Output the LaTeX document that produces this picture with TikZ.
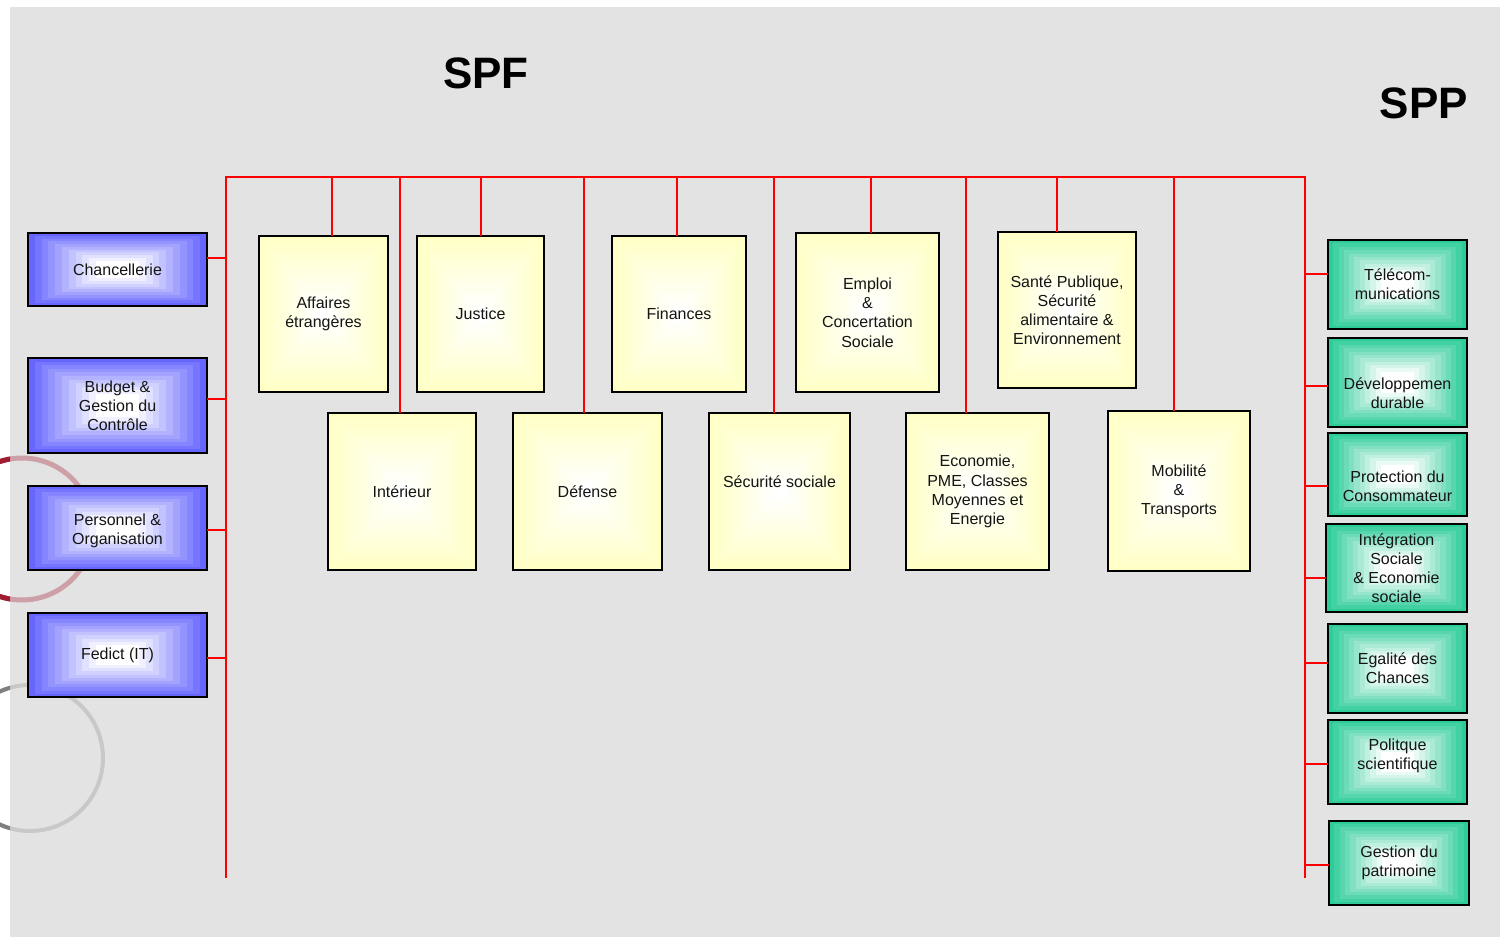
\documentclass[tikz,border=0pt]{standalone}
\usepackage{fontspec}
\setmainfont{Liberation Sans}
\usetikzlibrary{calc}
\definecolor{cBg}{RGB}{227,227,227}
\definecolor{cBlue}{RGB}{102,102,255}
\definecolor{cGreen}{RGB}{45,204,153}
\definecolor{cYellow}{RGB}{255,255,196}
\definecolor{cRingRed}{RGB}{160,28,50}
\definecolor{cRingRedL}{RGB}{205,160,168}
\definecolor{cRingGray}{RGB}{128,128,128}
\definecolor{cRingGrayL}{RGB}{200,200,200}
\definecolor{cTxt}{RGB}{20,20,20}
\tikzset{
  rgrad/.style n args={3}{path picture={
    \foreach \k in {0,...,#2}{
      \pgfmathsetmacro{\ff}{#3*\k/#2}
      \pgfmathtruncatemacro{\pp}{100-100*\k/#2}
      \fill[#1!\pp!white] ($(path picture bounding box.south west)!\ff!(path picture bounding box.north east)$) rectangle ($(path picture bounding box.north east)!\ff!(path picture bounding box.south west)$);
    }}},
  basebox/.style={draw=black, line width=1pt, inner sep=0pt, outer sep=0pt, align=center, text=cTxt, font=\fontsize{8}{9.6}\selectfont},
  blueB/.style={basebox, rgrad={cBlue}{10}{0.38}},
  greenB/.style={basebox, rgrad={cGreen}{10}{0.38}},
  yellowB/.style={basebox, rgrad={cYellow}{24}{0.46}},
  redl/.style={draw=red, line width=1pt},
  title/.style={font=\fontsize{22}{26}\selectfont\bfseries, text=black, inner sep=0pt},
}
\newcommand\mybox[7]{\node[#6, minimum width={(#4-#2)*0.5pt}, minimum height={(#5-#3)*0.5pt}] (#1) at ({(#2+#4)/2},{(#3+#5)/2}) {#7};}
\newcommand\shifttext[2]{\raisebox{#1}[0pt][0pt]{\begin{tabular}{@{}c@{}}#2\end{tabular}}}
\begin{document}
\begin{tikzpicture}[x=0.5pt,y=-0.5pt]
\useasboundingbox (0,0) rectangle (1500,937);
% background
\fill[cBg] (10,7) rectangle (1500,937);
% decorative rings
\draw[cRingRedL, line width=2.5pt] (22,529) circle (71);
\draw[cRingGrayL, line width=2pt] (30,758) circle (73);
\begin{scope}
  \clip (0,0) rectangle (10,937);
  \draw[cRingRed, line width=2.5pt] (22,529) circle (71);
  \draw[cRingGray, line width=2pt] (30,758) circle (73);
\end{scope}
% titles
\node[title] (tspf) at (486,73) {SPF};
\node[title] (tspp) at (1424,103) {SPP};
% bus
\coordinate (tl) at (226,177);
\coordinate (tr) at (1305,177);
\coordinate (bl) at (226,878);
\coordinate (br) at (1305,878);
\draw[redl] (bl) -- (tl) -- (tr) -- (br);
% left blue boxes
\mybox{chanc}{28}{233}{207}{306}{blueB}{Chancellerie}
\mybox{budget}{28}{358}{207}{453}{blueB}{Budget \&\\Gestion du\\Contrôle}
\mybox{perso}{28}{486}{207}{570}{blueB}{\shifttext{-3.5pt}{Personnel \&\\Organisation}}
\mybox{fedict}{28}{613}{207}{697}{blueB}{Fedict (IT)}
% yellow boxes top row
\mybox{affaires}{259}{236}{388}{392}{yellowB}{Affaires\\étrangères}
\mybox{justice}{417}{236}{544}{392}{yellowB}{Justice}
\mybox{finances}{612}{236}{746}{392}{yellowB}{Finances}
\mybox{emploi}{796}{233}{939}{392}{yellowB}{Emploi\\\&\\Concertation\\Sociale}
\mybox{sante}{998}{232}{1136}{388}{yellowB}{Santé Publique,\\Sécurité\\alimentaire \&\\Environnement}
% yellow boxes bottom row
\mybox{interieur}{328}{413}{476}{570}{yellowB}{Intérieur}
\mybox{defense}{513}{413}{662}{570}{yellowB}{Défense}
\mybox{secu}{709}{413}{850}{570}{yellowB}{\raisebox{10pt}{Sécurité sociale}}
\mybox{eco}{906}{413}{1049}{570}{yellowB}{Economie,\\PME, Classes\\Moyennes et\\Energie}
\mybox{mobil}{1108}{411}{1250}{571}{yellowB}{Mobilité\\\&\\Transports}
% green boxes
\mybox{tele}{1328}{240}{1467}{329}{greenB}{Télécom-\\munications}
\mybox{devdur}{1328}{338}{1467}{427}{greenB}{\shifttext{-8.5pt}{Développemen\\durable}}
\mybox{protec}{1328}{433}{1467}{516}{greenB}{\shifttext{-9pt}{Protection du\\Consommateur}}
\mybox{integr}{1326}{524}{1467}{612}{greenB}{Intégration\\Sociale\\\& Economie\\sociale}
\mybox{egal}{1328}{624}{1467}{713}{greenB}{Egalité des\\Chances}
\mybox{polit}{1328}{720}{1467}{804}{greenB}{\shifttext{1pt}{Politque\\scientifique}}
\mybox{patri}{1329}{821}{1469}{905}{greenB}{Gestion du\\patrimoine}
% left connectors
\draw[redl] (chanc.east |- 0,258) -- (tl |- 0,258);
\draw[redl] (budget.east |- 0,399) -- (tl |- 0,399);
\draw[redl] (perso.east |- 0,530) -- (tl |- 0,530);
\draw[redl] (fedict.east |- 0,658) -- (tl |- 0,658);
% top connectors
\draw[redl] (tl -| 332,0) -- (affaires.north -| 332,0);
\draw[redl] (tl -| 481,0) -- (justice.north -| 481,0);
\draw[redl] (tl -| 677,0) -- (finances.north -| 677,0);
\draw[redl] (tl -| 871,0) -- (emploi.north -| 871,0);
\draw[redl] (tl -| 1057,0) -- (sante.north -| 1057,0);
\draw[redl] (tl -| 400,0) -- (interieur.north -| 400,0);
\draw[redl] (tl -| 584,0) -- (defense.north -| 584,0);
\draw[redl] (tl -| 774,0) -- (secu.north -| 774,0);
\draw[redl] (tl -| 966,0) -- (eco.north -| 966,0);
\draw[redl] (tl -| 1174,0) -- (mobil.north -| 1174,0);
% right connectors
\draw[redl] (tr |- 0,274) -- (tele.west |- 0,274);
\draw[redl] (tr |- 0,386) -- (devdur.west |- 0,386);
\draw[redl] (tr |- 0,486) -- (protec.west |- 0,486);
\draw[redl] (tr |- 0,578) -- (integr.west |- 0,578);
\draw[redl] (tr |- 0,663) -- (egal.west |- 0,663);
\draw[redl] (tr |- 0,764) -- (polit.west |- 0,764);
\draw[redl] (tr |- 0,865) -- (patri.west |- 0,865);
\end{tikzpicture}
\end{document}
